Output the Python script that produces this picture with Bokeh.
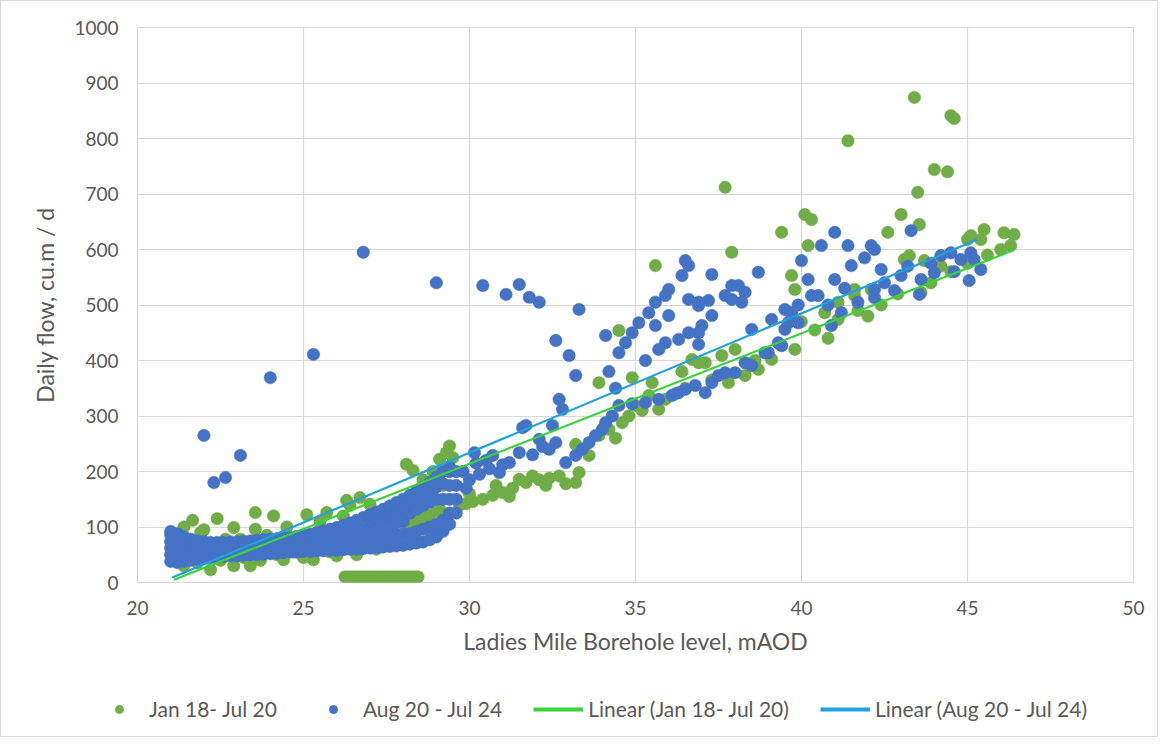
from bokeh.plotting import figure
from bokeh.layouts import column
from bokeh.models import Legend, LegendItem, FixedTicker, Range1d, ColumnDataSource
from bokeh.embed import file_html
from bokeh.resources import INLINE

# ---------------- data ----------------
x_ticks = [20, 25, 30, 35, 40, 45, 50]
y_ticks = [0, 100, 200, 300, 400, 500, 600, 700, 800, 900, 1000]

series_names = ["Jan 18- Jul 20", "Aug 20 - Jul 24"]
trend_names = ["Linear (Jan 18- Jul 20)", "Linear (Aug 20 - Jul 24)"]

# Jan 18 - Jul 20 (green)
green_pts = [
    (21.2, 60), (21.2, 85), (21.4, 30), (21.4, 100), (21.6, 45), (21.66, 112), (21.8, 35), (21.9, 90),
    (22.0, 95), (22.2, 23), (22.2, 60), (22.4, 115), (22.5, 40), (22.65, 78), (22.9, 99), (22.9, 30),
    (23.1, 78), (23.2, 45), (23.4, 30), (23.55, 126), (23.55, 96), (23.7, 40), (23.9, 85), (24.1, 120),
    (24.2, 50), (24.4, 41), (24.5, 100), (24.7, 55), (25.0, 45), (25.1, 122), (25.3, 41), (25.5, 110),
    (25.7, 126), (25.8, 55), (26.0, 48), (26.2, 120), (26.4, 139), (26.3, 148), (26.7, 153), (27.0, 141),
    (27.3, 125), (27.5, 132), (27.8, 120), (26.6, 50), (27.2, 60), (27.8, 70), (28.4, 76), (28.9, 85),
    (29.2, 95),
    (28.2, 103), (28.4, 110), (28.6, 116), (28.8, 122), (29.0, 128), (29.1, 132),
    (28.1, 213), (28.3, 202), (28.6, 185), (28.9, 200), (29.1, 222), (29.3, 234), (29.4, 246), (29.5, 225),
    (29.2, 175), (28.7, 160),
    (26.25, 10), (26.35, 10), (26.45, 10), (26.55, 10), (26.65, 10), (26.75, 10), (26.85, 10), (26.95, 10),
    (27.05, 10), (27.15, 10), (27.25, 10), (27.35, 10), (27.45, 10), (27.55, 10), (27.65, 10), (27.75, 10),
    (27.85, 10), (27.95, 10), (28.05, 10), (28.15, 10), (28.25, 10), (28.35, 10), (28.45, 10),
    (29.7, 139), (29.9, 142), (30.1, 146), (30.4, 150), (30.7, 157), (31.0, 162), (31.3, 170), (31.5, 186),
    (31.7, 180), (31.9, 192), (32.1, 185), (32.4, 188), (32.7, 192), (32.9, 178), (33.2, 180), (33.3, 198),
    (31.2, 155), (30.0, 160), (30.8, 175), (32.3, 175),
    (33.2, 249), (33.6, 229), (33.9, 265), (34.2, 276), (34.4, 260), (34.6, 288), (34.8, 300), (35.0, 319),
    (35.2, 310), (35.4, 337), (35.7, 312), (35.9, 330), (36.2, 340), (36.5, 350), (36.7, 402), (36.9, 396),
    (37.1, 396), (37.3, 365), (37.6, 409), (37.8, 360), (38.0, 420), (38.3, 373), (38.7, 384), (39.1, 402),
    (39.4, 427), (33.9, 360), (34.5, 454), (34.9, 369), (35.6, 571), (37.9, 595), (37.7, 712), (36.4, 380),
    (35.5, 360),
    (39.4, 631), (39.7, 553), (39.8, 528), (40.1, 663), (40.3, 654), (40.2, 607), (40.7, 486), (41.1, 474),
    (41.1, 505), (41.6, 528), (41.6, 517), (42.1, 528), (41.7, 490), (40.0, 470), (40.4, 455), (41.4, 796),
    (42.6, 631), (43.0, 663), (43.1, 582), (43.25, 589), (43.4, 874), (43.5, 703), (43.55, 645), (43.6, 522),
    (43.7, 580), (44.0, 744), (44.4, 740), (44.5, 841), (44.6, 836), (45.0, 618), (45.1, 625), (45.4, 618),
    (45.5, 636), (46.1, 630), (46.4, 627), (46.3, 607), (42.4, 500), (42.9, 520), (43.9, 540), (44.5, 560),
    (45.0, 575), (45.6, 590), (46.0, 600), (44.2, 570), (42.0, 480), (40.8, 440), (39.8, 420), (38.6, 400),
]

# Aug 20 - Jul 24 (blue): dense low-level band, read column by column (x, flows)
blue_band = [
    (21.0, (38, 50, 62, 74, 86, 92)), (21.2, (36, 47, 58, 69, 80, 88)), (21.4, (38, 49, 60, 71, 82)),
    (21.6, (40, 51, 62, 72, 78)), (21.8, (42, 53, 64, 75)), (22.0, (44, 55, 65, 74)),
    (22.2, (45, 56, 66, 72)), (22.4, (46, 57, 66, 72)), (22.6, (47, 58, 67, 72)),
    (22.8, (48, 59, 68, 73)), (23.0, (48, 59, 68, 73)), (23.2, (49, 60, 69, 74)),
    (23.4, (50, 61, 70, 75)), (23.6, (50, 61, 71, 76)), (23.8, (51, 62, 72, 77)),
    (24.0, (52, 63, 73, 78)), (24.2, (53, 64, 74, 79)), (24.4, (54, 65, 75, 80)),
    (24.6, (55, 66, 76, 81)), (24.8, (55, 67, 77, 83)), (25.0, (56, 68, 78, 85)),
    (25.2, (56, 68, 79, 87)), (25.4, (57, 69, 80, 90)), (25.6, (57, 70, 82, 93)),
    (25.8, (58, 71, 84, 96)), (26.0, (58, 72, 86, 99)), (26.2, (59, 73, 88, 103)),
    (26.4, (60, 74, 90, 107)), (26.6, (60, 75, 92, 112)), (26.8, (61, 77, 95, 117)),
    (27.0, (62, 79, 97, 112, 122)), (27.2, (63, 80, 99, 115, 127)), (27.4, (64, 82, 101, 118, 132)),
    (27.6, (65, 84, 104, 122, 138)), (27.8, (66, 86, 107, 126, 144)), (28.0, (67, 88, 110, 132, 150)),
    (28.2, (69, 88, 125, 142, 157)), (28.4, (71, 92, 132, 150, 164)), (28.6, (73, 96, 138, 157, 171)),
    (28.8, (77, 100, 145, 165, 180)), (29.0, (82, 105, 150, 172, 190)), (29.2, (92, 112, 150, 178, 200)),
    (29.4, (105, 125, 150, 175, 200, 208)), (29.6, (125, 150, 175, 200)),
]

blue_pts = [
    (22.0, 265), (22.3, 180), (22.65, 189), (23.1, 229), (24.0, 369), (25.3, 411), (26.8, 595), (29.0, 540),
    (30.4, 535), (31.1, 519), (31.5, 537), (31.8, 514), (32.1, 505), (33.3, 492), (32.6, 436), (33.0, 409),
    (33.2, 373), (32.7, 330), (34.1, 445),
    (29.8, 200), (30.15, 234), (30.0, 185), (30.3, 195), (30.6, 205), (30.7, 229), (30.9, 198), (31.2, 216),
    (31.5, 234), (31.6, 279), (31.7, 283), (32.1, 258), (32.5, 283), (32.6, 252), (32.8, 312), (32.9, 216),
    (33.2, 229), (32.2, 245), (31.9, 230), (31.0, 212), (32.4, 240), (29.9, 170), (30.2, 215), (30.5, 220),
    (33.6, 252), (34.0, 276), (34.3, 300), (34.5, 319), (34.9, 322), (35.3, 324), (35.7, 330), (36.1, 337),
    (36.5, 348), (37.1, 342), (37.3, 360), (37.5, 373), (37.7, 378), (38.0, 378), (38.5, 391), (39.0, 414),
    (39.3, 432), (39.4, 427), (39.5, 456), (39.7, 474), (39.7, 486), (39.9, 468), (33.4, 240), (33.8, 265),
    (34.1, 288), (36.8, 355), (36.3, 342),
    (34.5, 414), (34.7, 432), (34.9, 450), (35.1, 468), (35.4, 486), (35.6, 505), (35.9, 517), (36.0, 528),
    (36.4, 553), (36.5, 580), (36.6, 571), (37.3, 555), (38.7, 559), (36.6, 510), (36.9, 499), (37.2, 508),
    (37.7, 517), (37.9, 535), (38.1, 535), (38.3, 523), (38.2, 505), (37.9, 510), (36.9, 505), (37.3, 481),
    (37.0, 463), (36.9, 450), (36.6, 450), (36.3, 438), (35.9, 432), (35.7, 420), (35.3, 400), (36.9, 429),
    (36.0, 481), (35.6, 463), (38.5, 456), (39.1, 474), (39.6, 468), (39.5, 492), (38.3, 396), (38.9, 414),
    (34.4, 350), (34.2, 380),
    (40.0, 580), (40.2, 546), (40.3, 517), (40.5, 517), (40.6, 607), (40.9, 463), (41.0, 631), (41.0, 546),
    (41.2, 486), (41.4, 607), (41.5, 571), (41.7, 505), (41.9, 585), (42.1, 607), (42.2, 600), (42.2, 528),
    (42.2, 513), (42.4, 564), (42.8, 526), (43.0, 553), (43.3, 634), (43.6, 546), (43.55, 519), (44.0, 558),
    (44.2, 589), (44.5, 594), (44.8, 582), (45.1, 594), (45.2, 582), (45.4, 564), (45.05, 544), (40.8, 500),
    (42.5, 540), (43.9, 575), (44.6, 560), (43.2, 570), (41.3, 530), (39.9, 500),
]

# linear trend lines (end points)
green_trend_x = [21.1, 46.35]
green_trend_y = [5, 598]
blue_trend_x = [21.05, 45.3]
blue_trend_y = [9, 618]

# ---------------- styling ----------------
GREEN = "#70AD47"
BLUE = "#4472C4"
GREEN_LINE = "#3AD43A"
BLUE_LINE = "#1FA3DD"
GRID = "#D9D9D9"
TEXT = "#595959"
FONT = "Lato"

p = figure(width=1156, height=671, output_backend="svg", toolbar_location=None,
           x_range=Range1d(20, 50), y_range=Range1d(0, 1000),
           min_border_left=136, min_border_right=24, min_border_top=26, min_border_bottom=90)
p.background_fill_color = "white"
p.border_fill_color = "white"
p.outline_line_color = GRID
p.frame_align = False

bx = [a for a, b in blue_pts] + [c for c, ys in blue_band for _ in ys]
by = [b for a, b in blue_pts] + [y for c, ys in blue_band for y in ys]
gsrc = ColumnDataSource(dict(x=[a for a, b in green_pts], y=[b for a, b in green_pts]))
bsrc = ColumnDataSource(dict(x=bx, y=by))

r_g = p.scatter("x", "y", source=gsrc, size=12.5, fill_color=GREEN, line_color=GREEN, line_width=0.5)
r_b = p.scatter("x", "y", source=bsrc, size=12.5, fill_color=BLUE, line_color=BLUE, line_width=0.5)
r_gl = p.line(green_trend_x, green_trend_y, line_color=GREEN_LINE, line_width=2.2)
r_bl = p.line(blue_trend_x, blue_trend_y, line_color=BLUE_LINE, line_width=2.2)

for ax in (p.xaxis[0], p.yaxis[0]):
    ax.axis_line_color = None
    ax.major_tick_line_color = None
    ax.minor_tick_line_color = None
    ax.major_tick_out = 0
    ax.major_tick_in = 0
    ax.major_label_text_color = TEXT
    ax.major_label_text_font = FONT
    ax.major_label_text_font_size = "19px"
    ax.axis_label_text_color = TEXT
    ax.axis_label_text_font = FONT
    ax.axis_label_text_font_size = "23px"
    ax.axis_label_text_font_style = "normal"

p.xaxis.ticker = FixedTicker(ticks=x_ticks)
p.yaxis.ticker = FixedTicker(ticks=y_ticks)
p.xaxis.axis_label = "Ladies Mile Borehole level, mAOD"
p.yaxis.axis_label = "Daily flow, cu.m / d"
p.xaxis.major_label_standoff = 18
p.xaxis.axis_label_standoff = 9
p.yaxis.major_label_standoff = 19
p.yaxis.axis_label_standoff = 12

p.xgrid.ticker = FixedTicker(ticks=x_ticks)
p.ygrid.ticker = FixedTicker(ticks=y_ticks)
p.xgrid.grid_line_color = GRID
p.ygrid.grid_line_color = GRID
p.xgrid.grid_line_width = 1.2
p.ygrid.grid_line_width = 1.2

# legend strip under the chart (its glyphs reuse the same data, which lies outside this strip's view)
pl = figure(width=1156, height=64, output_backend="svg", toolbar_location=None,
            x_range=Range1d(0, 1), y_range=Range1d(0, 1),
            x_axis_location=None, y_axis_location=None,
            min_border_left=0, min_border_right=0, min_border_top=0, min_border_bottom=0)
pl.frame_align = False
pl.grid.visible = False
pl.outline_line_color = None
pl.background_fill_color = "white"
pl.border_fill_color = "white"
lg_g = pl.scatter("x", "y", source=gsrc, size=11, fill_color=GREEN, line_color=GREEN)
lg_b = pl.scatter("x", "y", source=bsrc, size=11, fill_color=BLUE, line_color=BLUE)
lg_gl = pl.line(green_trend_x, green_trend_y, line_color=GREEN_LINE, line_width=4)
lg_bl = pl.line(blue_trend_x, blue_trend_y, line_color=BLUE_LINE, line_width=4)

legend = Legend(items=[LegendItem(label=series_names[0], renderers=[lg_g]),
                       LegendItem(label=series_names[1], renderers=[lg_b]),
                       LegendItem(label=trend_names[0], renderers=[lg_gl]),
                       LegendItem(label=trend_names[1], renderers=[lg_bl])],
                location=(93, 15), orientation="horizontal", glyph_width=50, glyph_height=20,
                label_standoff=5, padding=0, margin=0, spacing=31, border_line_color=None,
                background_fill_alpha=0, label_text_color=TEXT, label_text_font=FONT,
                label_text_font_size="21px", label_height=20)
pl.add_layout(legend, "center")

layout = column(p, pl, spacing=0)
layout.styles = {"border": "1px solid #D9D9D9"}

open("out.html", "w").write(file_html(layout, INLINE))
